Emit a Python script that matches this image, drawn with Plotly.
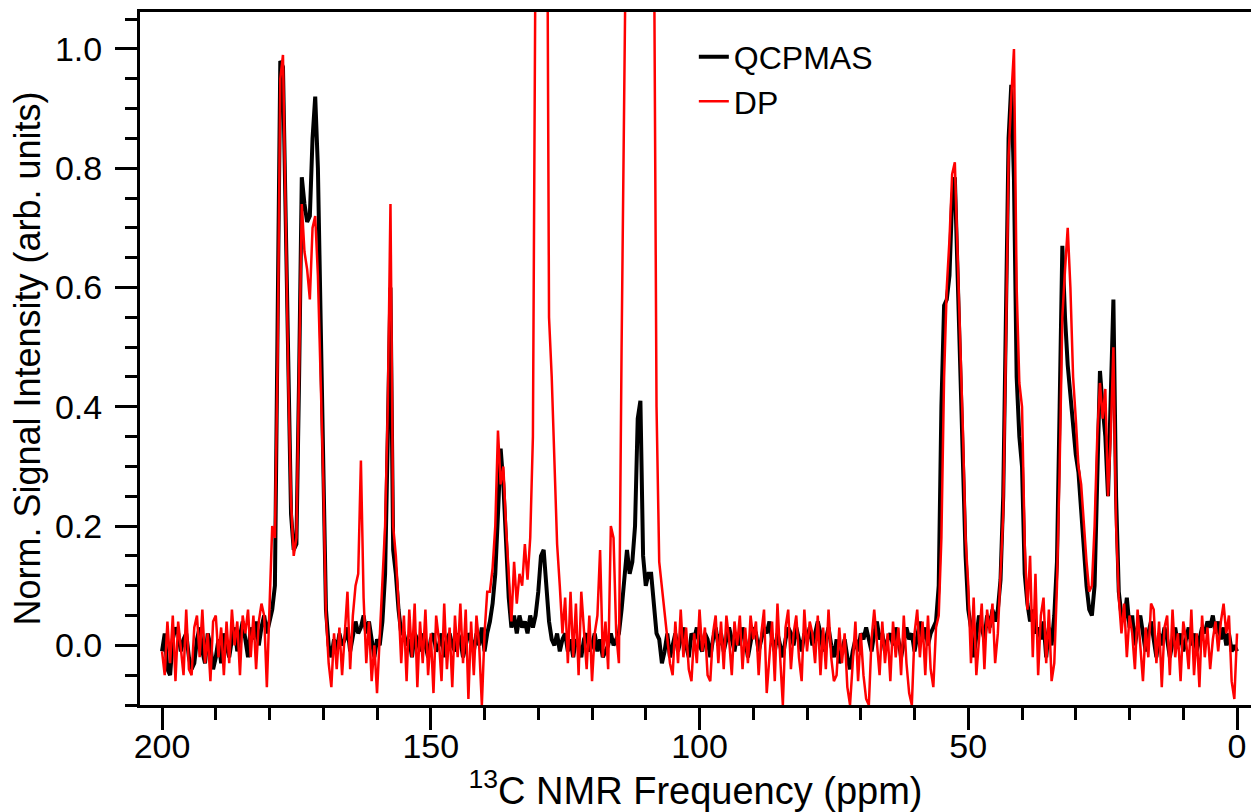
import numpy as np
import plotly.graph_objects as go

# ---- data: chemical shift (ppm) segments, 0.5 ppm spacing ----
STEP = 0.5

# QCPMAS (black)
qcp_start_a = 200.0
qcp_a = [-0.01, 0.02, -0.04, -0.05, 0.01, 0.03, 0.02, -0.01, 0.01, 0.02, -0.02, -0.04, -0.03, 0.01, 0.03,
         -0.01, -0.03, 0.02, 0.00, -0.04, -0.02, 0.01, -0.03, 0.02, 0.00, -0.02, 0.01, 0.03, -0.01, 0.02,
         0.04, 0.01, -0.02, 0.03, 0.01, 0.04, 0.00, 0.03, 0.05, 0.02]
qcp_start_b = 180.0
qcp_b = [0.04, 0.06, 0.10, 0.50, 0.98, 0.97, 0.72, 0.42, 0.22, 0.16, 0.17, 0.45, 0.785, 0.74, 0.71, 0.72,
         0.85, 0.92, 0.80, 0.55, 0.30, 0.06, 0.00, -0.02, 0.01, -0.01, 0.02, 0.00]
qcp_start_c = 166.0
qcp_c = [0.01, 0.03, -0.01, 0.02, 0.04, 0.02, 0.03, 0.05, 0.02, 0.04, 0.01, -0.02, 0.01, 0.00]
qcp_start_d = 159.0
qcp_d = [0.04, 0.12, 0.35, 0.60, 0.16, 0.12, 0.06, 0.02]
qcp_start_e = 155.0
qcp_e = [0.02, 0.00, 0.01, -0.02, 0.02, 0.01, -0.01, 0.02, 0.00, -0.02, 0.01, 0.02, -0.01, 0.00, 0.02, -0.02,
         0.01, 0.02, 0.00, -0.01, 0.02, 0.01, -0.02, 0.00, 0.02, 0.01, -0.01, 0.02, 0.00, 0.03, -0.01, 0.02]
qcp_start_f = 139.0
qcp_f = [0.04, 0.07, 0.12, 0.22, 0.33, 0.27, 0.17, 0.08, 0.03, 0.05, 0.02, 0.05, 0.03, 0.04, 0.02, 0.05,
         0.03, 0.05, 0.09, 0.15, 0.16, 0.10, 0.04, 0.01, 0.00, 0.02, -0.01, 0.01]
qcp_start_g = 125.0
qcp_g = [0.02, -0.01, 0.01, -0.02, 0.01, 0.00, -0.02, 0.01, 0.02, -0.01, 0.00, 0.02, -0.01, 0.01, -0.02,
         -0.01, 0.00, 0.02, 0.00, 0.01]
qcp_start_h = 115.0
qcp_h = [0.02, 0.06, 0.12, 0.16, 0.12, 0.14, 0.20, 0.38, 0.41, 0.15, 0.10, 0.12, 0.12, 0.06, 0.02, 0.01,
         -0.03, -0.01, 0.02, -0.02]
qcp_start_i = 105.0
qcp_i = [0.00, 0.02, -0.01, 0.01, 0.03, 0.00, -0.02, 0.02, 0.01, 0.03, 0.00, -0.01, 0.02, 0.01, -0.02, 0.01,
         0.03, 0.00, 0.02, -0.01, 0.01, 0.03, 0.01, -0.01, 0.02, 0.00, 0.03, 0.01, -0.02, 0.01, 0.03, 0.02,
         -0.01, 0.01, 0.03, 0.02, 0.04, 0.01, -0.01, 0.02, 0.00, -0.02, 0.01, 0.03, 0.02, 0.00, 0.03, 0.01,
         -0.01, 0.02, 0.01, 0.03, 0.00, 0.02, 0.04, 0.02, -0.01, 0.01, 0.03, 0.00, -0.02, 0.01, -0.03, -0.01,
         0.01, -0.02, -0.04, -0.01, 0.01, -0.01, 0.02, 0.01, 0.03, 0.01, -0.01, 0.02, 0.04, 0.01, 0.02, -0.01,
         0.01, 0.02, 0.00, 0.03, 0.01, -0.02, 0.01, 0.03, 0.01, 0.02, -0.01, 0.02, 0.04, 0.01, 0.03, 0.00,
         0.02, 0.03, 0.04]
qcp_start_j = 55.5
qcp_j = [0.10, 0.40, 0.57, 0.58, 0.62, 0.75, 0.785, 0.62, 0.50, 0.34, 0.15, 0.06, 0.03, -0.02, 0.02, 0.05,
         0.03, 0.01, 0.05, 0.03, 0.06, 0.04]
qcp_start_k = 44.5
qcp_k = [0.06, 0.11, 0.25, 0.55, 0.85, 0.94, 0.78, 0.45, 0.35, 0.30, 0.12, 0.07, 0.04, 0.06, 0.02, 0.03,
         0.01, 0.04, -0.02, 0.03, 0.00]
qcp_start_l = 34.0
qcp_l = [0.05, 0.14, 0.40, 0.67, 0.55, 0.47, 0.42, 0.36, 0.32, 0.29, 0.22, 0.16, 0.10, 0.06, 0.05, 0.10,
         0.30, 0.46, 0.40, 0.35, 0.25, 0.40, 0.58, 0.25, 0.09, 0.05]
qcp_start_m = 21.0
qcp_m = [0.04, 0.08, 0.03, 0.05, 0.00, 0.03, 0.05, 0.02, -0.01, 0.02, 0.04, 0.01, -0.02, 0.02, 0.00, 0.03,
         0.01, -0.02, 0.01, 0.03, 0.00, 0.02, -0.01, 0.01, 0.03, 0.00, 0.02, -0.01, 0.01, 0.03, 0.02, 0.04,
         0.03, 0.05, 0.02, 0.04, 0.01, 0.03, 0.00, 0.02, -0.01, 0.00, -0.01]

# DP (red)
dp_start_a = 200.0
dp_a = [-0.01, -0.05, 0.04, -0.03, 0.05, -0.06, 0.04, 0.00, -0.05, 0.06, -0.04, -0.05, 0.03, 0.05, -0.02,
        0.06, -0.03, 0.02, -0.06, 0.04, 0.05, -0.02, 0.03, -0.05, 0.04, -0.03, 0.06, 0.00, 0.04, -0.05,
        0.05, 0.02, 0.06, -0.02, 0.05, -0.04, 0.04, 0.07, 0.05, -0.07]
dp_start_b = 180.0
dp_b = [0.06, 0.20, 0.18, 0.48, 0.95, 0.99, 0.72, 0.44, 0.24, 0.15, 0.18, 0.50, 0.74, 0.66, 0.63, 0.58,
        0.70, 0.72, 0.62, 0.45, 0.28, 0.05, -0.03, -0.07, 0.02, -0.04, 0.03, -0.05]
dp_start_c = 166.0
dp_c = [0.03, 0.09, -0.04, 0.05, 0.10, 0.12, 0.31, 0.08, -0.03, 0.04, -0.06, 0.00, -0.08, 0.02]
dp_start_d = 159.0
dp_d = [0.12, 0.20, 0.40, 0.74, 0.20, 0.15, 0.07, -0.03]
dp_start_e = 155.0
dp_e = [0.05, -0.06, 0.06, -0.02, 0.07, -0.07, 0.04, -0.03, 0.06, -0.05, 0.02, -0.08, 0.05, 0.01, -0.06,
        0.07, -0.04, 0.03, -0.07, 0.05, -0.02, 0.07, -0.03, 0.06, -0.09, 0.04, -0.05, 0.05, 0.00, -0.10,
        0.02, 0.09]
dp_start_f = 139.0
dp_f = [0.09, 0.13, 0.20, 0.36, 0.27, 0.30, 0.20, 0.12, 0.04, 0.14, 0.07, 0.12, 0.10, 0.17, 0.11, 0.18,
        0.35, 1.20, 2.20, 2.60, 2.40, 1.60, 0.55, 0.45, 0.32, 0.17, 0.10, 0.02]
dp_start_g = 125.0
dp_g = [0.08, -0.03, 0.09, -0.02, 0.07, -0.05, 0.09, 0.02, -0.04, 0.05, -0.06, 0.02, 0.05, 0.16, -0.02,
        0.04, -0.04, 0.20, 0.18, 0.02]
dp_start_h = 115.0
dp_h = [-0.03, 0.50, 1.30, 2.00, 2.50, 2.80, 3.00, 3.10, 3.00, 2.80, 2.50, 2.10, 1.70, 1.25, 0.40, 0.14,
        0.10, 0.06, 0.02, -0.03]
dp_start_i = 105.0
dp_i = [-0.05, 0.04, -0.03, 0.06, -0.02, 0.03, -0.04, -0.06, 0.02, -0.03, 0.06, -0.01, 0.03, -0.05, -0.06,
        0.02, 0.05, -0.03, 0.04, -0.04, 0.05, 0.01, -0.05, 0.04, 0.00, 0.05, -0.04, 0.03, -0.03, 0.05, 0.01,
        0.04, -0.05, 0.02, 0.06, -0.08, -0.02, 0.04, -0.06, 0.07, -0.02, -0.10, 0.03, 0.06, -0.04, 0.02,
        0.05, -0.02, -0.06, 0.06, -0.01, 0.04, 0.02, -0.03, 0.05, -0.05, 0.03, -0.04, 0.06, -0.02, -0.06,
        -0.05, 0.03, -0.03, 0.02, -0.07, -0.10, -0.03, 0.04, -0.06, 0.02, -0.05, -0.09, -0.10, 0.01, 0.06,
        0.00, -0.05, 0.04, -0.03, 0.02, -0.06, 0.04, -0.02, 0.03, -0.05, 0.05, -0.03, -0.08, -0.10, 0.02,
        0.06, -0.02, 0.04, -0.05, 0.05, -0.04, -0.07, 0.03]
dp_start_j = 55.5
dp_j = [0.05, 0.18, 0.45, 0.60, 0.68, 0.79, 0.81, 0.66, 0.52, 0.36, 0.18, 0.10, -0.03, 0.08, -0.05, 0.01,
        0.07, -0.04, 0.06, 0.02, 0.07, -0.03]
dp_start_k = 44.5
dp_k = [0.02, 0.12, 0.22, 0.50, 0.82, 0.92, 1.00, 0.60, 0.44, 0.40, 0.17, 0.06, 0.15, -0.02, 0.12, -0.05,
        0.05, 0.08, -0.03, 0.06, -0.06]
dp_start_l = 34.0
dp_l = [-0.03, 0.10, 0.30, 0.55, 0.63, 0.70, 0.60, 0.45, 0.38, 0.30, 0.27, 0.20, 0.14, 0.09, 0.10, 0.20,
        0.35, 0.44, 0.38, 0.43, 0.25, 0.35, 0.50, 0.20, 0.08, 0.02]
dp_start_m = 21.0
dp_m = [0.07, -0.02, 0.05, 0.02, -0.04, 0.06, 0.00, -0.06, 0.03, -0.02, 0.07, 0.06, -0.03, 0.04, -0.07,
        0.03, 0.05, -0.05, 0.06, -0.02, 0.02, -0.06, 0.04, 0.01, -0.04, 0.06, -0.05, 0.02, -0.07, 0.05,
        -0.02, 0.03, -0.04, 0.01, 0.04, -0.01, 0.04, 0.07, 0.02, 0.05, -0.06, -0.09, 0.02]

x_tick_vals = [200, 150, 100, 50, 0]
y_tick_vals = [0.0, 0.2, 0.4, 0.6, 0.8, 1.0]
y_tick_text = ["0.0", "0.2", "0.4", "0.6", "0.8", "1.0"]


def build(segments):
    xs, ys = [], []
    for start, vals in segments:
        xs.extend(start - STEP * np.arange(len(vals)))
        ys.extend(vals)
    return np.array(xs), np.array(ys)


qcp_x, qcp_y = build([(qcp_start_a, qcp_a), (qcp_start_b, qcp_b), (qcp_start_c, qcp_c), (qcp_start_d, qcp_d),
                      (qcp_start_e, qcp_e), (qcp_start_f, qcp_f), (qcp_start_g, qcp_g), (qcp_start_h, qcp_h),
                      (qcp_start_i, qcp_i), (qcp_start_j, qcp_j), (qcp_start_k, qcp_k), (qcp_start_l, qcp_l),
                      (qcp_start_m, qcp_m)])
dp_x, dp_y = build([(dp_start_a, dp_a), (dp_start_b, dp_b), (dp_start_c, dp_c), (dp_start_d, dp_d),
                    (dp_start_e, dp_e), (dp_start_f, dp_f), (dp_start_g, dp_g), (dp_start_h, dp_h),
                    (dp_start_i, dp_i), (dp_start_j, dp_j), (dp_start_k, dp_k), (dp_start_l, dp_l),
                    (dp_start_m, dp_m)])

FONT = "Liberation Sans, Arial, sans-serif"

fig = go.Figure()
fig.add_trace(go.Scatter(x=qcp_x, y=qcp_y, mode="lines", name="QCPMAS",
                         line=dict(color="#000000", width=4)))
fig.add_trace(go.Scatter(x=dp_x, y=dp_y, mode="lines", name="DP",
                         line=dict(color="#ff0000", width=2.5)))

fig.update_layout(
    width=1251, height=812,
    margin=dict(l=140, r=0, t=12, b=107, autoexpand=False),
    paper_bgcolor="white", plot_bgcolor="white",
    font=dict(family=FONT, color="black", size=32),
    showlegend=True,
    legend=dict(x=0.4985, y=0.975, xanchor="left", yanchor="top",
                bgcolor="rgba(0,0,0,0)", font=dict(size=32, family=FONT),
                itemwidth=30, tracegroupgap=0),
    xaxis=dict(range=[204.1, -2.6], showgrid=False, zeroline=False, automargin=False,
               showline=True, linecolor="black", linewidth=3, mirror=True,
               ticks="outside", ticklen=22, tickwidth=3, tickcolor="black",
               tickvals=x_tick_vals, tickfont=dict(size=34, family=FONT),
               ticklabelstandoff=-13,
               minor=dict(dtick=10, ticks="outside", ticklen=12, tickwidth=3, tickcolor="black"),
               title=dict(text="<sup>13</sup>C NMR Frequency (ppm)", font=dict(size=38, family=FONT),
                          standoff=4)),
    yaxis=dict(range=[-0.1, 1.062], showgrid=False, zeroline=False, automargin=False,
               showline=True, linecolor="black", linewidth=3,
               ticks="outside", ticklen=22, tickwidth=3, tickcolor="black",
               tickvals=y_tick_vals, ticktext=y_tick_text, tickfont=dict(size=34, family=FONT),
               ticklabelstandoff=6,
               minor=dict(dtick=0.05, tick0=0, ticks="outside", ticklen=12, tickwidth=3, tickcolor="black"),
               title=dict(text="Norm. Signal Intensity (arb. units)", font=dict(size=36, family=FONT),
                          standoff=4)),
)

fig.write_html("out.html", config={"displayModeBar": False},
               post_script="document.body.style.margin='0px';document.body.style.overflow='hidden';")
